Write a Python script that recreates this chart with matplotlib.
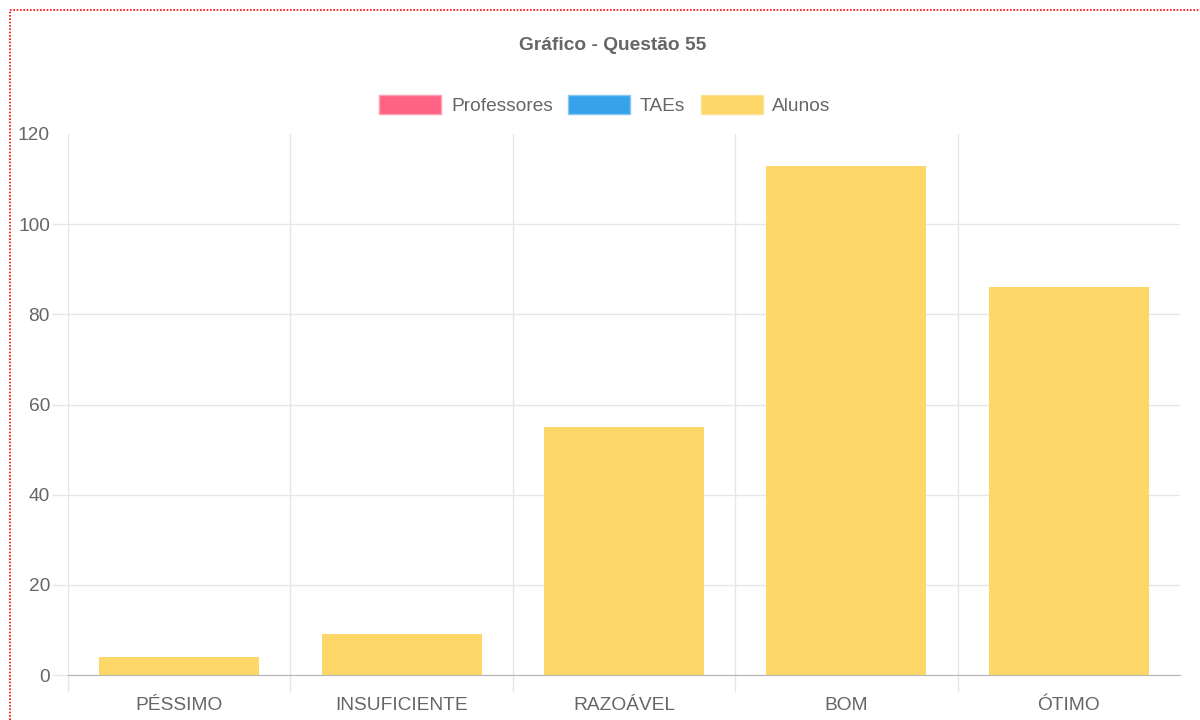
import matplotlib
matplotlib.use("Agg")
import matplotlib.pyplot as plt
from matplotlib.patches import Patch
from matplotlib.lines import Line2D
from matplotlib import font_manager

# data
categorias = ["PÉSSIMO", "INSUFICIENTE", "RAZOÁVEL", "BOM", "ÓTIMO"]
alunos = [4, 9, 55, 113, 86]
series = ["Professores", "TAEs", "Alunos"]
cores = ["#FF6384", "#36A2EB", "#FDD868"]
bordas = ["#FF9DB2", "#86C6F2", "#FDE39A"]
yticks = [0, 20, 40, 60, 80, 100, 120]

# font: narrow like the original if we have it, otherwise a smaller Arial-like one
nomes = {f.name for f in font_manager.fontManager.ttflist}
if "Liberation Sans Narrow" in nomes:
    plt.rcParams["font.family"] = ["Liberation Sans Narrow", "DejaVu Sans"]
    fs = 16.5
else:
    plt.rcParams["font.family"] = ["Liberation Sans", "DejaVu Sans"]
    fs = 13.8

cinza = "#666666"
grade = "#e6e6e6"

fig = plt.figure(figsize=(12, 7.2), dpi=100)
ax = fig.add_axes([68 / 1200, 1 - 675 / 720, (1180 - 68) / 1200, (675 - 134) / 720])

x = list(range(len(categorias)))
ax.bar(x, alunos, width=0.72, color=cores[2], zorder=3)

ax.set_xlim(-0.5, len(categorias) - 0.5)
ax.set_ylim(0, 120)

# x axis: labels on categories, grid on boundaries
ax.set_xticks(x)
ax.set_xticklabels(categorias, fontsize=fs, color=cinza)
ax.set_xticks([i - 0.5 for i in x], minor=True)
ax.tick_params(axis="x", which="major", length=0, pad=15.5)
ax.tick_params(axis="x", which="minor", length=12.5, width=1, color=grade)
ax.grid(axis="x", which="minor", color=grade, linewidth=1, zorder=0)

# y axis
ax.set_yticks(yticks)
ax.set_yticklabels([str(v) for v in yticks], fontsize=fs, color=cinza)
ax.tick_params(axis="y", length=11.5, width=1, color=grade, pad=1.5)
ax.grid(axis="y", which="major", color=grade, linewidth=1, zorder=0)
ax.get_ygridlines()[-1].set_visible(False)
ax.yaxis.get_major_ticks()[-1].tick1line.set_visible(False)
ax.yaxis.get_major_ticks()[0].tick1line.set_color("#b5b5b5")

for s in ["top", "right", "left"]:
    ax.spines[s].set_visible(False)
ax.spines["bottom"].set_color("#b5b5b5")
ax.spines["bottom"].set_zorder(4)

# title and legend
fig.text(613 / 1200, 1 - 45 / 720, "Gráfico - Questão 55", ha="center", va="center",
         fontsize=fs, fontweight="bold", color=cinza)
handles = [Patch(facecolor=c, edgecolor=b, linewidth=1) for c, b in zip(cores, bordas)]
fig.legend(handles, series, loc="center", bbox_to_anchor=(605 / 1200, 1 - 105 / 720),
           ncol=3, frameon=False, fontsize=fs, labelcolor=cinza,
           handlelength=62 / (fs * 100 / 72), handleheight=22 / (fs * 100 / 72),
           handletextpad=0.5, columnspacing=0.8)

# red dotted border of the page
fig.add_artist(Line2D([10 / 1200, 1], [1 - 10 / 720, 1 - 10 / 720], transform=fig.transFigure,
                      color="red", linestyle=(0, (1, 1)), linewidth=1.2))
fig.add_artist(Line2D([10 / 1200, 10 / 1200], [0, 1 - 10 / 720], transform=fig.transFigure,
                      color="red", linestyle=(0, (1, 1)), linewidth=1.2))

fig.savefig("out.png", dpi=100)
